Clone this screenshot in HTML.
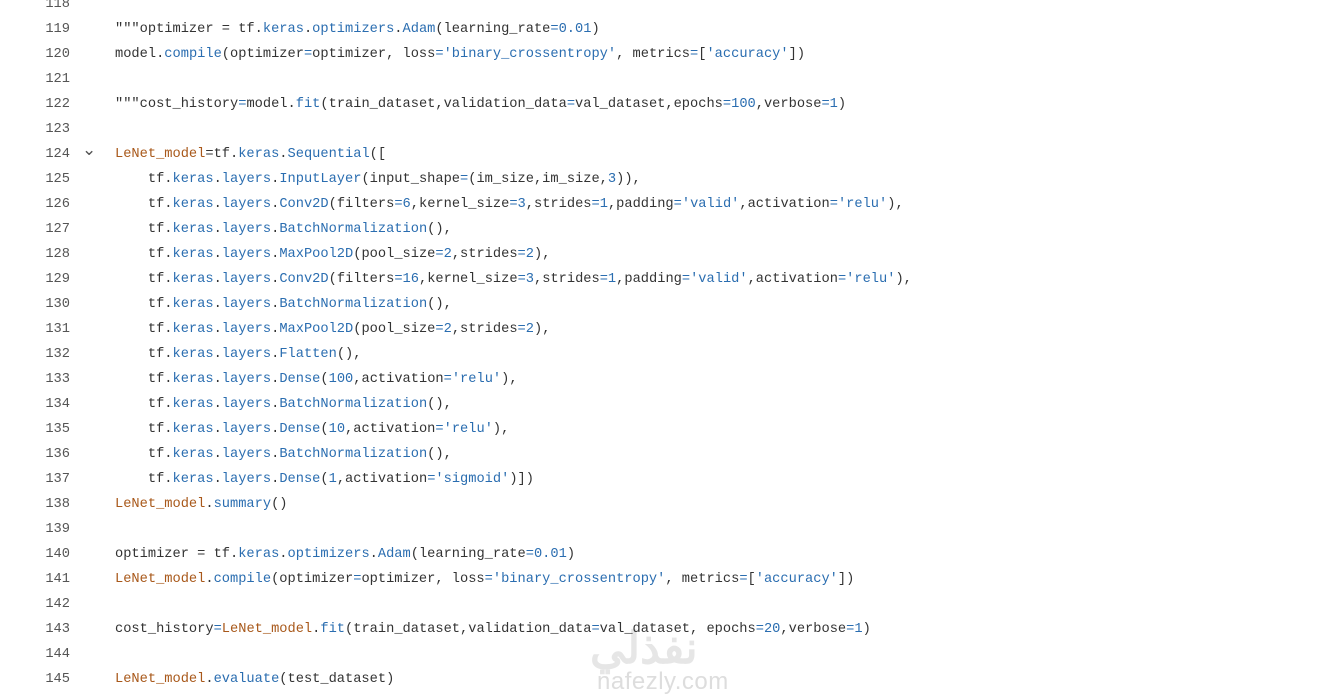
<!DOCTYPE html><html><head><style>
body{margin:0;background:#fff;width:1341px;height:698px;overflow:hidden;position:relative;font-family:"Liberation Mono",monospace;font-size:13.7px;color:#333}
#w{position:absolute;left:0;top:2px;width:1341px;height:698px}
.l{position:absolute;left:0;height:25px;line-height:25px;white-space:pre}
.n{position:absolute;left:0;width:70px;text-align:right;color:#555}
.c{position:absolute;left:115px}
b{font-weight:normal;color:#2a6db0}
i{font-style:normal;color:#a8581a}
.wm{position:absolute;left:597px;top:666px;font-family:"Liberation Sans",sans-serif;font-size:24px;color:#ddd;letter-spacing:0.5px}
.ar{position:absolute;left:590px;top:610px;font-family:"Noto Sans CJK SC",sans-serif;font-size:44px;color:#e6e6e6;font-weight:bold}
</style></head><body><div id="w">
<div class="ar">نفذلي</div>
<div class="wm">nafezly.com</div>
<div class="l" style="top:-10px"><span class="n">118</span></div>
<div class="l" style="top:15px"><span class="n">119</span><span class="c">"""optimizer = tf.<b>keras</b>.<b>optimizers</b>.<b>Adam</b>(learning_rate<b>=0.01</b>)</span></div>
<div class="l" style="top:40px"><span class="n">120</span><span class="c">model.<b>compile</b>(optimizer<b>=</b>optimizer, loss<b>='binary_crossentropy'</b>, metrics<b>=</b>[<b>'accuracy'</b>])</span></div>
<div class="l" style="top:65px"><span class="n">121</span></div>
<div class="l" style="top:90px"><span class="n">122</span><span class="c">"""cost_history<b>=</b>model.<b>fit</b>(train_dataset,validation_data<b>=</b>val_dataset,epochs<b>=100</b>,verbose<b>=1</b>)</span></div>
<div class="l" style="top:115px"><span class="n">123</span></div>
<div class="l" style="top:140px"><span class="n">124</span><span style="position:absolute;left:82px;top:-3px;color:#555;font-size:17px">⌄</span><span class="c"><i>LeNet_model</i>=tf.<b>keras</b>.<b>Sequential</b>([</span></div>
<div class="l" style="top:165px"><span class="n">125</span><span class="c">    tf.<b>keras</b>.<b>layers</b>.<b>InputLayer</b>(input_shape<b>=</b>(im_size,im_size,<b>3</b>)),</span></div>
<div class="l" style="top:190px"><span class="n">126</span><span class="c">    tf.<b>keras</b>.<b>layers</b>.<b>Conv2D</b>(filters<b>=6</b>,kernel_size<b>=3</b>,strides<b>=1</b>,padding<b>='valid'</b>,activation<b>='relu'</b>),</span></div>
<div class="l" style="top:215px"><span class="n">127</span><span class="c">    tf.<b>keras</b>.<b>layers</b>.<b>BatchNormalization</b>(),</span></div>
<div class="l" style="top:240px"><span class="n">128</span><span class="c">    tf.<b>keras</b>.<b>layers</b>.<b>MaxPool2D</b>(pool_size<b>=2</b>,strides<b>=2</b>),</span></div>
<div class="l" style="top:265px"><span class="n">129</span><span class="c">    tf.<b>keras</b>.<b>layers</b>.<b>Conv2D</b>(filters<b>=16</b>,kernel_size<b>=3</b>,strides<b>=1</b>,padding<b>='valid'</b>,activation<b>='relu'</b>),</span></div>
<div class="l" style="top:290px"><span class="n">130</span><span class="c">    tf.<b>keras</b>.<b>layers</b>.<b>BatchNormalization</b>(),</span></div>
<div class="l" style="top:315px"><span class="n">131</span><span class="c">    tf.<b>keras</b>.<b>layers</b>.<b>MaxPool2D</b>(pool_size<b>=2</b>,strides<b>=2</b>),</span></div>
<div class="l" style="top:340px"><span class="n">132</span><span class="c">    tf.<b>keras</b>.<b>layers</b>.<b>Flatten</b>(),</span></div>
<div class="l" style="top:365px"><span class="n">133</span><span class="c">    tf.<b>keras</b>.<b>layers</b>.<b>Dense</b>(<b>100</b>,activation<b>='relu'</b>),</span></div>
<div class="l" style="top:390px"><span class="n">134</span><span class="c">    tf.<b>keras</b>.<b>layers</b>.<b>BatchNormalization</b>(),</span></div>
<div class="l" style="top:415px"><span class="n">135</span><span class="c">    tf.<b>keras</b>.<b>layers</b>.<b>Dense</b>(<b>10</b>,activation<b>='relu'</b>),</span></div>
<div class="l" style="top:440px"><span class="n">136</span><span class="c">    tf.<b>keras</b>.<b>layers</b>.<b>BatchNormalization</b>(),</span></div>
<div class="l" style="top:465px"><span class="n">137</span><span class="c">    tf.<b>keras</b>.<b>layers</b>.<b>Dense</b>(<b>1</b>,activation<b>='sigmoid'</b>)])</span></div>
<div class="l" style="top:490px"><span class="n">138</span><span class="c"><i>LeNet_model</i>.<b>summary</b>()</span></div>
<div class="l" style="top:515px"><span class="n">139</span></div>
<div class="l" style="top:540px"><span class="n">140</span><span class="c">optimizer = tf.<b>keras</b>.<b>optimizers</b>.<b>Adam</b>(learning_rate<b>=0.01</b>)</span></div>
<div class="l" style="top:565px"><span class="n">141</span><span class="c"><i>LeNet_model</i>.<b>compile</b>(optimizer<b>=</b>optimizer, loss<b>='binary_crossentropy'</b>, metrics<b>=</b>[<b>'accuracy'</b>])</span></div>
<div class="l" style="top:590px"><span class="n">142</span></div>
<div class="l" style="top:615px"><span class="n">143</span><span class="c">cost_history<b>=</b><i>LeNet_model</i>.<b>fit</b>(train_dataset,validation_data<b>=</b>val_dataset, epochs<b>=20</b>,verbose<b>=1</b>)</span></div>
<div class="l" style="top:640px"><span class="n">144</span></div>
<div class="l" style="top:665px"><span class="n">145</span><span class="c"><i>LeNet_model</i>.<b>evaluate</b>(test_dataset)</span></div>
</div></body></html>
